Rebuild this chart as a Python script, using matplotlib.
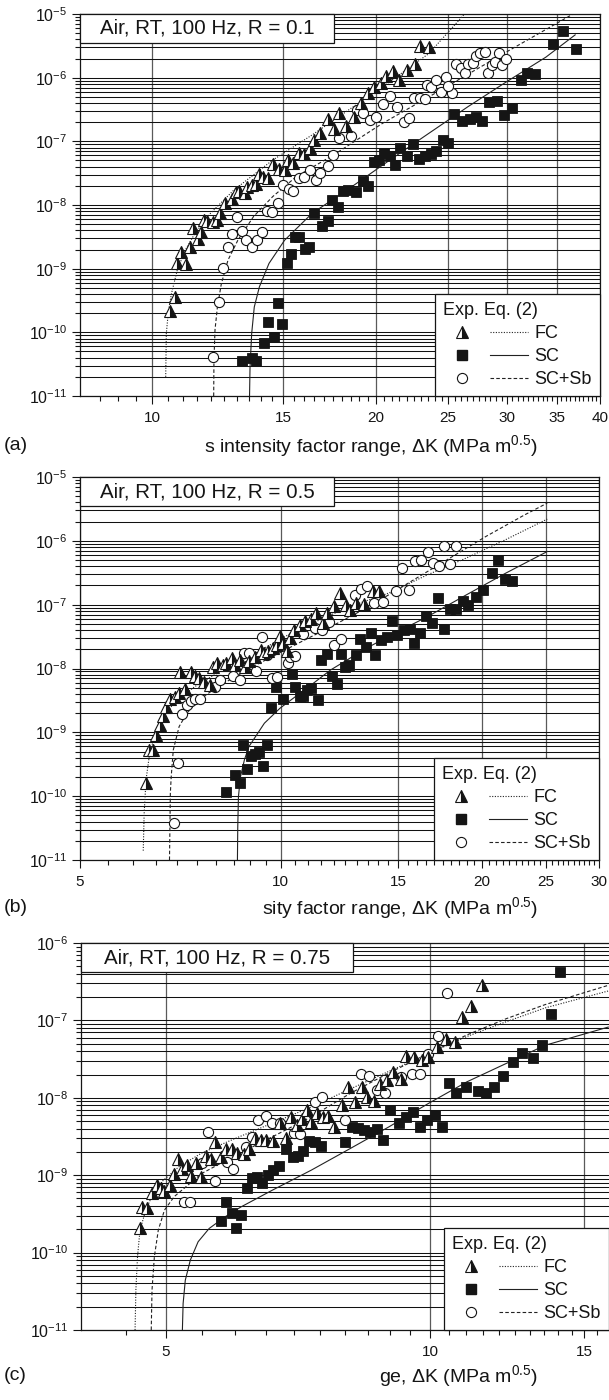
import numpy as np
import matplotlib
matplotlib.use("Agg")
import matplotlib.pyplot as plt
from matplotlib.lines import Line2D
from matplotlib.patches import Rectangle
from matplotlib.legend_handler import HandlerTuple
from matplotlib.ticker import FixedLocator, NullFormatter, FuncFormatter

plt.rcParams['font.family'] = ['Liberation Sans', 'DejaVu Sans']
plt.rcParams['mathtext.fontset'] = 'custom'
plt.rcParams['mathtext.rm'] = 'Liberation Sans'
plt.rcParams['mathtext.it'] = 'Liberation Sans:italic'
plt.rcParams['mathtext.bf'] = 'Liberation Sans:bold'
plt.rcParams['mathtext.default'] = 'regular'

# ---------------- data: panel (a) R = 0.1 ----------------
FC_A = [(10.58,2.19e-10),(10.72,3.55e-10),(10.81,1.21e-9),(11.09,1.18e-9),(10.95,1.85e-9),(11.24,2.22e-9),
        (11.34,4.41e-9),(11.52,2.89e-9),(11.64,3.72e-9),(11.74,5.81e-9),(11.84,5.54e-9),(12.09,5.41e-9),
        (12.22,5.81e-9),(12.35,7.40e-9),(12.55,1.09e-8),(12.79,1.26e-8),(12.97,1.58e-8),(13.07,1.68e-8),
        (13.33,1.52e-8),(13.42,1.89e-8),(13.64,2.04e-8),(13.78,2.11e-8),(13.94,3.07e-8),(14.10,2.79e-8),
        (14.33,2.66e-8),(14.54,4.35e-8),(14.80,3.72e-8),(15.07,3.59e-8),(15.22,5.09e-8),(15.48,4.51e-8),
        (15.78,6.64e-8),(16.01,6.32e-8),(16.32,7.76e-8),(16.50,1.05e-7),(16.84,1.34e-7),(17.21,2.27e-7),
        (17.55,1.56e-7),(17.81,2.75e-7),(18.24,1.74e-7),(18.69,2.44e-7),(19.07,3.95e-7),(19.49,5.81e-7),
        (19.89,7.05e-7),(20.30,8.15e-7),(20.63,1.06e-6),(21.08,1.29e-6),(21.44,9.19e-7),(22.04,1.32e-6),
        (22.58,1.62e-6),(22.94,3.18e-6),(23.56,3.0e-6)]
SC_A = [(13.20,3.59e-11),(13.61,3.91e-11),(13.78,3.59e-11),(14.16,6.89e-11),(14.33,1.47e-10),(14.57,8.55e-11),
        (14.75,2.85e-10),(14.93,1.35e-10),(15.17,1.21e-9),(15.35,1.70e-9),(15.57,3.10e-9),(15.78,3.18e-9),
        (16.05,2.06e-9),(16.24,2.16e-9),(16.50,7.40e-9),(16.92,4.68e-9),(17.21,5.67e-9),(17.46,1.20e-8),
        (17.76,9.19e-9),(18.07,1.64e-8),(18.35,1.72e-8),(18.77,1.60e-8),(19.19,2.35e-8),(19.49,1.99e-8),
        (19.85,4.73e-8),(20.19,5.09e-8),(20.50,6.49e-8),(20.88,5.89e-8),(21.21,4.31e-8),(21.52,7.85e-8),
        (22.04,5.89e-8),(22.39,9.08e-8),(22.86,5.21e-8),(23.28,5.89e-8),(23.70,6.32e-8),(24.07,7.13e-8),
        (24.57,1.05e-7),(25.02,9.31e-8),(25.48,2.69e-7),(26.10,2.11e-7),(26.74,2.22e-7),(27.23,2.38e-7),
        (27.80,2.11e-7),(28.41,4.15e-7),(29.10,4.25e-7),(29.71,2.59e-7),(30.43,3.30e-7),(31.28,9.19e-7),
        (31.93,1.17e-6),(32.71,1.14e-6),(34.58,3.34e-6),(35.72,5.34e-6),(37.13,2.85e-6)]
SB_A = [(12.09,4.15e-11),(12.31,3.03e-10),(12.46,1.01e-9),(12.64,2.22e-9),(12.82,3.51e-9),(12.99,6.56e-9),
        (13.20,3.95e-9),(13.39,2.82e-9),(13.61,2.16e-9),(13.82,2.82e-9),(14.05,3.81e-9),(14.27,8.15e-9),
        (14.50,7.86e-9),(14.75,1.06e-8),(14.98,2.06e-8),(15.26,1.76e-8),(15.48,1.66e-8),(15.78,2.62e-8),
        (16.01,2.79e-8),(16.30,3.55e-8),(16.60,2.47e-8),(16.84,3.22e-8),(17.21,4.10e-8),(17.53,6.10e-8),
        (17.81,1.11e-7),(18.51,1.21e-7),(18.85,3.10e-7),(19.19,2.75e-7),(19.61,2.16e-7),(20.01,2.38e-7),
        (20.45,3.81e-7),(20.88,5.21e-7),(21.34,3.51e-7),(21.78,2.04e-7),(22.13,2.30e-7),(22.51,4.85e-7),
        (22.94,4.74e-7),(23.28,4.62e-7),(23.42,7.67e-7),(23.70,7.05e-7),(24.07,9.19e-7),(24.43,6.03e-7),
        (24.87,1.01e-6),(25.32,5.68e-7),(25.02,7.40e-7),(25.63,1.64e-6),(26.01,1.40e-6),(26.32,1.17e-6),
        (26.58,1.64e-6),(26.96,1.72e-6),(27.29,2.19e-6),(27.62,2.41e-6),(28.06,2.56e-6),(28.30,1.17e-6),
        (28.64,1.58e-6),(28.92,1.78e-6),(29.27,2.41e-6),(29.56,1.58e-6),(29.91,1.94e-6)]
FC_FIT_A = [(10.43,2.0e-11),(10.45,9.6e-11),(10.52,2.2e-10),(10.62,4.1e-10),(10.81,9.5e-10),(11.08,1.96e-9),
            (11.42,3.6e-9),(11.98,7.4e-9),(12.88,1.72e-8),(14.53,5.09e-8),(16.41,1.26e-7),(18.51,3.3e-7),
            (20.88,8.7e-7),(23.56,2.4e-6),(26.3,1.0e-5)]
SB_FIT_A = [(12.10,1e-11),(12.11,3.7e-11),(12.15,1.1e-10),(12.24,2.5e-10),(12.39,5.8e-10),(12.65,1.37e-9),
            (13.04,2.8e-9),(13.69,6.6e-9),(14.53,1.36e-8),(15.63,2.8e-8),(17.53,6.1e-8),(20.38,1.9e-7),
            (23.56,5.0e-7),(29.99,2.56e-6),(36.8,1e-5)]
SC_FIT_A = [(13.52,1e-11),(13.54,2.8e-11),(13.61,9.6e-11),(13.72,2.5e-10),(13.94,5.2e-10),(14.36,1.21e-9),
            (15.07,2.8e-9),(16.41,7.4e-9),(18.51,1.9e-8),(20.88,5.1e-8),(23.56,1.34e-7),(26.58,3.5e-7),
            (29.99,8.7e-7),(33.83,2.1e-6),(37.04,4.7e-6)]

# ---------------- data: panel (b) R = 0.5 ----------------
FC_B = [(6.28,1.59e-10),(6.35,5.30e-10),(6.43,5.30e-10),(6.50,9.10e-10),(6.58,1.28e-9),(6.65,1.81e-9),
        (6.74,2.47e-9),(6.83,3.30e-9),(6.94,3.55e-9),(7.04,4.20e-9),(7.19,4.73e-9),(7.07,8.85e-9),
        (7.33,8.85e-9),(7.43,7.66e-9),(7.55,7.04e-9),(7.68,6.25e-9),(7.84,5.54e-9),(7.92,1.07e-8),
        (8.03,1.24e-8),(8.18,1.14e-8),(8.27,1.21e-8),(8.44,1.45e-8),(8.55,1.14e-8),(8.70,1.37e-8),
        (8.84,1.07e-8),(8.96,1.29e-8),(9.14,1.54e-8),(9.33,1.96e-8),(9.45,1.78e-8),(9.58,1.85e-8),
        (9.74,2.08e-8),(9.87,2.35e-8),(9.97,3.25e-8),(10.08,2.49e-8),(10.22,1.85e-8),(10.31,2.99e-8),
        (10.45,4.04e-8),(10.67,4.83e-8),(10.88,5.45e-8),(11.10,5.93e-8),(11.28,7.36e-8),(11.56,5.13e-8),
        (11.72,7.36e-8),(12.00,9.38e-8),(12.28,1.52e-7),(12.53,9.95e-8),(12.70,8.30e-8),(12.96,1.08e-7),
        (13.31,1.03e-7),(13.76,1.61e-7),(14.04,1.61e-7)]
SC_B = [(8.27,1.15e-10),(8.55,2.15e-10),(8.68,1.63e-10),(8.78,6.34e-10),(8.89,2.64e-10),(9.02,4.27e-10),
        (9.16,4.58e-10),(9.28,4.93e-10),(9.40,2.97e-10),(9.53,6.34e-10),(9.66,2.38e-9),(9.82,5.21e-9),
        (10.08,3.38e-9),(10.38,8.24e-9),(10.52,5.21e-9),(10.67,3.72e-9),(10.81,3.72e-9),(10.96,4.62e-9),
        (11.10,4.91e-9),(11.36,3.22e-9),(11.50,1.37e-8),(11.72,1.68e-8),(11.92,7.66e-9),(12.13,5.74e-9),
        (12.30,1.70e-8),(12.48,1.07e-8),(12.66,1.14e-8),(12.96,1.64e-8),(13.13,2.88e-8),(13.40,2.16e-8),
        (13.67,3.58e-8),(13.85,1.64e-8),(14.14,2.81e-8),(14.43,3.10e-8),(14.68,5.45e-8),(14.96,3.37e-8),
        (15.32,4.04e-8),(15.64,4.13e-8),(15.86,2.55e-8),(16.17,3.66e-8),(16.49,6.68e-8),(16.83,5.13e-8),
        (17.22,1.26e-7),(17.59,4.13e-8),(17.95,8.51e-8),(18.29,8.51e-8),(18.74,1.16e-7),(19.11,9.95e-8),
        (19.63,1.30e-7),(20.09,1.67e-7),(20.72,3.13e-7),(21.20,5.06e-7),(21.72,2.55e-7),(22.24,2.34e-7)]
SB_B = [(6.91,3.84e-11),(7.01,3.27e-10),(7.11,1.94e-9),(7.23,2.69e-9),(7.33,3.15e-9),(7.43,3.30e-9),
        (7.57,3.30e-9),(7.97,5.21e-9),(8.10,6.63e-9),(8.47,7.66e-9),(8.70,6.63e-9),(8.82,1.74e-8),
        (8.97,1.74e-8),(9.18,9.29e-9),(9.36,3.17e-8),(9.54,1.64e-8),(9.71,7.04e-9),(9.88,7.31e-9),
        (10.24,1.21e-8),(10.31,1.54e-8),(10.52,1.58e-8),(10.78,3.49e-8),(11.25,4.28e-8),(11.53,4.04e-8),
        (11.80,5.26e-8),(12.03,2.35e-8),(12.30,2.95e-8),(12.90,1.43e-7),(13.18,1.75e-7),(13.49,1.93e-7),
        (13.82,1.08e-7),(14.23,1.12e-7),(14.88,1.61e-7),(15.22,3.74e-7),(15.59,1.71e-7),(15.89,4.75e-7),
        (16.21,5.06e-7),(16.60,6.59e-7),(16.94,4.48e-7),(17.28,3.97e-7),(17.59,8.38e-7),(17.95,4.33e-7),
        (18.29,8.38e-7)]
FC_FIT_B = [(6.22,1.4e-11),(6.24,5.4e-11),(6.28,1.8e-10),(6.36,4.7e-10),(6.49,9.7e-10),(6.67,1.77e-9),
            (6.94,3.0e-9),(7.43,5.2e-9),(8.05,8.6e-9),(9.08,1.65e-8),(10.52,3.9e-8),(12.70,9.4e-8),
            (14.52,1.52e-7),(16.60,2.94e-7),(18.99,5.4e-7),(21.72,1.04e-6),(25.09,2.19e-6)]
SB_FIT_B = [(6.81,1e-11),(6.82,3.3e-11),(6.83,1.1e-10),(6.85,2.0e-10),(6.90,5.3e-10),(7.04,1.23e-9),
            (7.23,1.99e-9),(7.53,3.2e-9),(8.05,5.2e-9),(9.08,1.07e-8),(10.38,2.2e-8),(11.88,4.5e-8),
            (13.58,9.4e-8),(15.53,2.18e-7),(17.76,5.06e-7),(20.30,1.17e-6),(23.22,2.56e-6),(25.09,3.9e-6)]
SC_FIT_B = [(8.61,1e-11),(8.62,3.3e-11),(8.64,9.8e-11),(8.70,2.0e-10),(8.82,3.7e-10),(8.96,6.0e-10),
            (9.45,1.39e-9),(9.97,2.38e-9),(10.52,3.63e-9),(11.10,5.5e-9),(11.88,9.5e-9),(12.70,1.45e-8),
            (13.58,2.2e-8),(14.52,3.2e-8),(16.60,6.5e-8),(18.99,1.43e-7),(21.72,3.1e-7),(25.09,6.8e-7)]

# ---------------- data: panel (c) R = 0.75 ----------------
FC_C = [(4.67,2.05e-10),(4.70,3.91e-10),(4.76,3.72e-10),(4.82,5.81e-10),(4.88,7.44e-10),(4.93,6.74e-10),
        (4.97,6.29e-10),(5.05,7.44e-10),(5.10,1.05e-9),(5.16,1.60e-9),(5.22,1.22e-9),(5.29,1.35e-9),
        (5.34,9.73e-10),(5.41,1.42e-9),(5.48,9.53e-10),(5.55,1.76e-9),(5.62,1.60e-9),(5.68,2.70e-9),
        (5.77,1.73e-9),(5.86,2.15e-9),(5.95,2.21e-9),(6.03,1.95e-9),(6.14,1.87e-9),(6.21,2.21e-9),
        (6.31,2.98e-9),(6.41,2.84e-9),(6.50,2.84e-9),(6.63,2.78e-9),(6.74,4.74e-9),(6.85,2.98e-9),
        (6.94,5.67e-9),(7.06,4.43e-9),(7.15,5.40e-9),(7.24,6.92e-9),(7.32,4.89e-9),(7.43,6.27e-9),
        (7.55,5.67e-9),(7.65,5.78e-9),(7.77,4.22e-9),(7.94,8.02e-9),(8.06,1.38e-8),(8.21,8.87e-9),
        (8.36,1.38e-8),(8.47,1.03e-8),(8.64,9.12e-9),(8.78,1.53e-8),(8.93,1.69e-8),(9.07,2.16e-8),
        (9.26,1.77e-8),(9.40,3.44e-8),(9.60,3.38e-8),(9.80,3.06e-8),(9.95,3.38e-8),(10.18,4.54e-8),
        (10.42,5.82e-8),(10.67,5.27e-8),(10.89,1.11e-7),(11.14,1.52e-7),(11.45,2.85e-7)]
SC_C = [(5.77,2.58e-10),(5.86,4.54e-10),(5.95,3.21e-10),(6.01,2.05e-10),(6.09,3.02e-10),(6.18,6.74e-10),
        (6.26,9.08e-10),(6.35,9.35e-10),(6.44,7.82e-10),(6.54,1.00e-9),(6.63,1.16e-9),(6.72,1.31e-9),
        (6.85,2.21e-9),(6.97,1.73e-9),(7.08,1.76e-9),(7.17,2.07e-9),(7.28,2.78e-9),(7.39,2.70e-9),
        (7.51,2.37e-9),(8.01,2.70e-9),(8.15,4.22e-9),(8.27,4.13e-9),(8.40,3.82e-9),(8.55,3.63e-9),
        (8.69,4.01e-9),(8.84,2.84e-9),(9.01,6.92e-9),(9.21,4.66e-9),(9.40,5.67e-9),(9.57,6.58e-9),
        (9.75,4.22e-9),(9.93,5.24e-9),(10.13,5.96e-9),(10.31,4.22e-9),(10.52,1.56e-8),(10.71,1.14e-8),
        (11.00,1.38e-8),(11.34,1.23e-8),(11.58,1.14e-8),(11.82,1.38e-8),(12.11,1.90e-8),(12.44,2.91e-8),
        (12.72,3.80e-8),(13.12,3.28e-8),(13.41,4.88e-8),(13.73,1.20e-7),(14.06,4.22e-7)]
SB_C = [(5.24,4.54e-10),(5.33,4.54e-10),(5.49,1.42e-9),(5.59,3.63e-9),(5.68,8.47e-10),(5.87,1.46e-9),
        (5.96,1.22e-9),(6.17,2.33e-9),(6.26,3.13e-9),(6.37,5.24e-9),(6.50,5.84e-9),(6.61,4.74e-9),
        (6.75,4.66e-9),(6.99,3.56e-9),(7.11,3.36e-9),(7.39,8.87e-9),(7.53,1.03e-8),(8.01,5.14e-9),
        (8.34,2.06e-8),(8.51,1.92e-8),(8.69,1.28e-8),(8.89,1.16e-8),(9.26,1.86e-8),(9.53,2.02e-8),
        (9.73,2.06e-8),(9.95,3.72e-8),(10.21,6.24e-8),(10.47,2.26e-7)]
FC_FIT_C = [(4.61,1e-11),(4.62,3.3e-11),(4.64,8.9e-11),(4.67,1.95e-10),(4.74,3.5e-10),(4.83,5.7e-10),
            (4.96,8.5e-10),(5.17,1.28e-9),(5.49,1.93e-9),(5.96,2.9e-9),(6.61,4.7e-9),(7.32,7.6e-9),
            (8.11,1.3e-8),(8.98,2.2e-8),(9.95,3.7e-8),(11.02,6.2e-8),(12.21,9.6e-8),(13.53,1.45e-7),
            (15.97,2.4e-7)]
SB_FIT_C = [(4.81,1e-11),(4.82,3.3e-11),(4.85,8.9e-11),(4.90,1.95e-10),(4.98,3.54e-10),(5.11,5.3e-10),
            (5.27,7.1e-10),(5.49,1.05e-9),(5.96,1.73e-9),(6.61,3.13e-9),(7.32,5.67e-9),(8.11,1.14e-8),
            (8.98,2.1e-8),(9.95,3.7e-8),(11.02,6.5e-8),(12.21,1.05e-7),(13.53,1.6e-7),(15.97,2.84e-7)]
SC_FIT_C = [(5.22,1e-11),(5.23,2.2e-11),(5.26,4.4e-11),(5.33,8.0e-11),(5.44,1.38e-10),(5.60,2.05e-10),
            (5.84,2.9e-10),(6.09,3.9e-10),(6.61,6.4e-10),(7.32,1.16e-9),(8.11,2.21e-9),(8.98,4.22e-9),
            (9.95,8.4e-9),(11.02,1.61e-8),(12.21,2.77e-8),(13.53,4.77e-8),(15.97,8.2e-8)]

# ---------------- text / ticks ----------------
TITLES = ["Air, RT, 100 Hz, R = 0.1", "Air, RT, 100 Hz, R = 0.5", "Air, RT, 100 Hz, R = 0.75"]
XLABELS = [r"s intensity factor range, $\Delta$K (MPa m$^{0.5}$)",
           r"sity factor range, $\Delta$K (MPa m$^{0.5}$)",
           r"ge, $\Delta$K (MPa m$^{0.5}$)"]
LETTERS = ["(a)", "(b)", "(c)"]
XTICKS = [[10, 15, 20, 25, 30, 35, 40], [5, 10, 15, 20, 25, 30], [5, 10, 15]]
XLIMS = [(8, 40), (5, 30), (4, 16)]
YDECADES = [(-11, -5), (-11, -5), (-11, -6)]
LEG_LABELS = ["FC", "SC", "SC+Sb"]

W, H = 609, 1400
fig = plt.figure(figsize=(W / 100, H / 100), dpi=100)

# pixel boxes (left, top, right, bottom)
RECTS = [(80, 14, 600, 396), (80, 477, 599, 860), (81, 943, 609, 1330)]
TBOX = [(254, 29), (254, 29), (272, 29)]
XLABEL_Y = [446, 908, 1376]

DOT = (0, (1, 1.4))
DASH = (0, (3.2, 2))
FITCOL = '#222222'
INK = '#151515'


def unzip(pairs):
    return [p[0] for p in pairs], [p[1] for p in pairs]


def decade_fmt(v, pos):
    return r'$10^{%d}$' % int(round(np.log10(v)))


panels = [
    (FC_A, SC_A, SB_A, FC_FIT_A, SC_FIT_A, SB_FIT_A),
    (FC_B, SC_B, SB_B, FC_FIT_B, SC_FIT_B, SB_FIT_B),
    (FC_C, SC_C, SB_C, FC_FIT_C, SC_FIT_C, SB_FIT_C),
]

for i, (fc, sc, sb, fcf, scf, sbf) in enumerate(panels):
    l, t, r, b = RECTS[i]
    ax = fig.add_axes([l / W, 1 - b / H, (r - l) / W, (b - t) / H])
    ax.set_xscale('log')
    ax.set_yscale('log')
    d0, d1 = YDECADES[i]
    ax.set_xlim(*XLIMS[i])
    ax.set_ylim(10.0 ** d0, 10.0 ** d1)
    ax.set_axisbelow(True)

    xt = XTICKS[i]
    ax.xaxis.set_major_locator(FixedLocator(xt))
    ax.xaxis.set_major_formatter(FuncFormatter(lambda v, p: '%g' % v))
    lo, hi = XLIMS[i]
    minors = [v for v in np.arange(lo, hi + 1e-9, 0.5) if lo < v < hi and v not in xt]
    ax.xaxis.set_minor_locator(FixedLocator(minors))
    ax.xaxis.set_minor_formatter(NullFormatter())

    ymaj = [10.0 ** k for k in range(d0, d1 + 1)]
    ymin = [m * 10.0 ** k for k in range(d0, d1) for m in range(2, 10)]
    ax.yaxis.set_major_locator(FixedLocator(ymaj))
    ax.yaxis.set_minor_locator(FixedLocator(ymin))
    ax.yaxis.set_major_formatter(FuncFormatter(decade_fmt))
    ax.yaxis.set_minor_formatter(NullFormatter())

    ax.grid(True, which='both', axis='y', color='#111111', lw=0.75)
    ax.grid(True, which='major', axis='x', color='#5a5a5a', lw=0.9)

    ax.tick_params(axis='x', which='major', direction='out', length=6, width=0.8, labelsize=11,
                   colors=INK, pad=5)
    ax.tick_params(axis='y', which='major', direction='out', length=6, width=0.8, labelsize=11.5,
                   colors=INK, pad=3)
    ax.tick_params(which='minor', direction='out', length=3.5, width=0.8, colors=INK)
    for s in ax.spines.values():
        s.set_linewidth(0.9)
        s.set_color(INK)
    if i == 2:
        ax.spines['right'].set_visible(False)

    # fits
    x, y = unzip(fcf)
    ax.plot(x, y, ls=DOT, color=FITCOL, lw=0.8, zorder=2)
    x, y = unzip(scf)
    ax.plot(x, y, ls='-', color=FITCOL, lw=0.8, zorder=2)
    x, y = unzip(sbf)
    ax.plot(x, y, ls=DASH, color=FITCOL, lw=0.8, zorder=2)

    # data points
    x, y = unzip(sc)
    ax.plot(x, y, ls='none', marker='s', ms=6.8, mfc=INK, mec=INK, mew=0.6, zorder=3)
    x, y = unzip(sb)
    ax.plot(x, y, ls='none', marker='o', ms=7.3, mfc='white', mec=INK, mew=0.8, zorder=3)
    x, y = unzip(fc)
    ax.plot(x, y, ls='none', marker='^', ms=8.0, fillstyle='right', mfc=INK,
            markerfacecoloralt='white', mec=INK, mew=0.8, zorder=4)

    # title box
    bw, bh = TBOX[i]
    fw, fh = bw / (r - l), bh / (b - t)
    ax.add_patch(Rectangle((0, 1 - fh), fw, fh, transform=ax.transAxes, fc='white',
                           ec=INK, lw=0.9, zorder=6, clip_on=False))
    ax.text(fw / 2, 1 - fh / 2, TITLES[i], transform=ax.transAxes, ha='center', va='center',
            fontsize=14.8, color=INK, zorder=7)

    # legend
    h_fc = (Line2D([], [], ls='none', marker='^', ms=8.0, fillstyle='right', mfc=INK,
                   markerfacecoloralt='white', mec=INK, mew=0.8),
            Line2D([], [], ls=DOT, color=FITCOL, lw=0.8))
    h_sc = (Line2D([], [], ls='none', marker='s', ms=6.8, mfc=INK, mec=INK),
            Line2D([], [], ls='-', color=FITCOL, lw=0.8))
    h_sb = (Line2D([], [], ls='none', marker='o', ms=7.3, mfc='white', mec=INK, mew=0.8),
            Line2D([], [], ls=DASH, color=FITCOL, lw=0.8))
    leg = ax.legend([h_fc, h_sc, h_sb], LEG_LABELS,
                    handler_map={tuple: HandlerTuple(ndivide=None, pad=0.5)},
                    loc='lower right', bbox_to_anchor=(1, 0), borderaxespad=0,
                    fancybox=False, framealpha=1, edgecolor=INK,
                    title='Exp. Eq. (2)', alignment='left', fontsize=13, title_fontsize=13,
                    handlelength=4.7, handletextpad=0.35, borderpad=0.45, labelspacing=0.33,
                    numpoints=1)
    leg.get_frame().set_linewidth(0.9)
    for txt in leg.get_texts():
        txt.set_color(INK)
    leg.get_title().set_color(INK)

    fig.text(538 / W, 1 - XLABEL_Y[i] / H, XLABELS[i], ha='right', va='center',
             fontsize=14, color=INK)
    fig.text(4 / W, 1 - XLABEL_Y[i] / H, LETTERS[i], ha='left', va='center',
             fontsize=14, color=INK)

fig.savefig('out.png', dpi=100)
